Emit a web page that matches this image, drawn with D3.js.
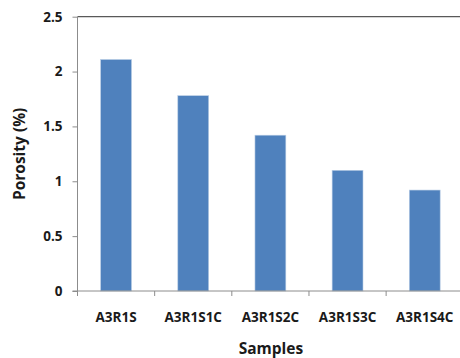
<!DOCTYPE html>
<html>
<head>
<meta charset="utf-8">
<script src="https://cdn.jsdelivr.net/npm/d3@7"></script>
<style>
  html, body { margin: 0; padding: 0; background: #fff; }
  svg { display: block; }
  text { font-family: "Open Sans", "Liberation Sans", sans-serif; font-weight: 700; fill: #1a1a1a; }
</style>
</head>
<body>
<svg id="chart" width="460" height="358"></svg>
<script>
// Porosity per sample
const samples = ["A3R1S", "A3R1S1C", "A3R1S2C", "A3R1S3C", "A3R1S4C"];
const porosity = [2.11, 1.78, 1.42, 1.10, 0.92];
const yTicks = [0, 0.5, 1, 1.5, 2, 2.5];

const svg = d3.select("#chart");
const margin = { left: 77.5, right: -3.3, top: 16.7, bottom: 67 };
const W = 460, H = 358;
const x0 = margin.left, x1 = W - margin.right;
const y0 = H - margin.bottom, y1 = margin.top;

const x = d3.scaleBand().domain(samples).range([x0, x1])
  .paddingInner(0.6).paddingOuter(0.3);
const y = d3.scaleLinear().domain([0, 2.5]).range([y0, y1]);

// plot frame top edge
svg.append("line")
  .attr("x1", x0).attr("x2", x1 + 1)
  .attr("y1", y(2.5)).attr("y2", y(2.5))
  .attr("stroke", "#595959").attr("stroke-width", 1.2);

// bars
svg.append("g").selectAll("rect")
  .data(samples.map((s, i) => ({ s, v: porosity[i] })))
  .join("rect")
  .attr("x", d => x(d.s))
  .attr("width", x.bandwidth())
  .attr("y", d => y(d.v))
  .attr("height", d => y(0) - y(d.v))
  .attr("fill", "#4F81BD")
  .attr("stroke", "#B9CDE5")
  .attr("stroke-width", 0.6);

// y axis
const yAxis = svg.append("g")
  .attr("transform", `translate(${x0},0)`)
  .call(d3.axisLeft(y).tickValues(yTicks).tickSize(5).tickPadding(10)
    .tickFormat(d => String(d)));
yAxis.select(".domain").attr("stroke", "#8c8c8c").attr("d", `M0,${y0 + 5}V${y1}`);
yAxis.selectAll(".tick line").attr("stroke", "#8c8c8c");
yAxis.selectAll(".tick text").attr("font-size", 13.5).attr("fill", "#1a1a1a")
  .attr("font-family", "'Open Sans', sans-serif").attr("font-weight", 700);

// x axis: labels centred on categories, ticks at category boundaries
const step = x.step();
const xAxis = svg.append("g")
  .attr("transform", `translate(0,${y0})`)
  .call(d3.axisBottom(x).tickSize(0).tickPadding(21.5));
xAxis.select(".domain").attr("stroke", "#8c8c8c").attr("d", `M${x0 - 5},0H${x1}`);
xAxis.selectAll(".tick text").attr("font-size", 13.5).attr("fill", "#1a1a1a")
  .attr("font-family", "'Open Sans', sans-serif").attr("font-weight", 700);
xAxis.selectAll(".boundary")
  .data(d3.range(samples.length + 1))
  .join("line")
  .attr("x1", i => x0 + i * step).attr("x2", i => x0 + i * step)
  .attr("y1", 0).attr("y2", 5)
  .attr("stroke", "#8c8c8c");

// axis titles
svg.append("text")
  .attr("transform", `translate(25,${(y0 + y1) / 2}) rotate(-90)`)
  .attr("text-anchor", "middle")
  .attr("font-size", 15.5)
  .text("Porosity (%)");

svg.append("text")
  .attr("x", (x0 + x1) / 2 + 0.5)
  .attr("y", 354)
  .attr("text-anchor", "middle")
  .attr("font-size", 15.5)
  .text("Samples");
</script>
</body>
</html>
